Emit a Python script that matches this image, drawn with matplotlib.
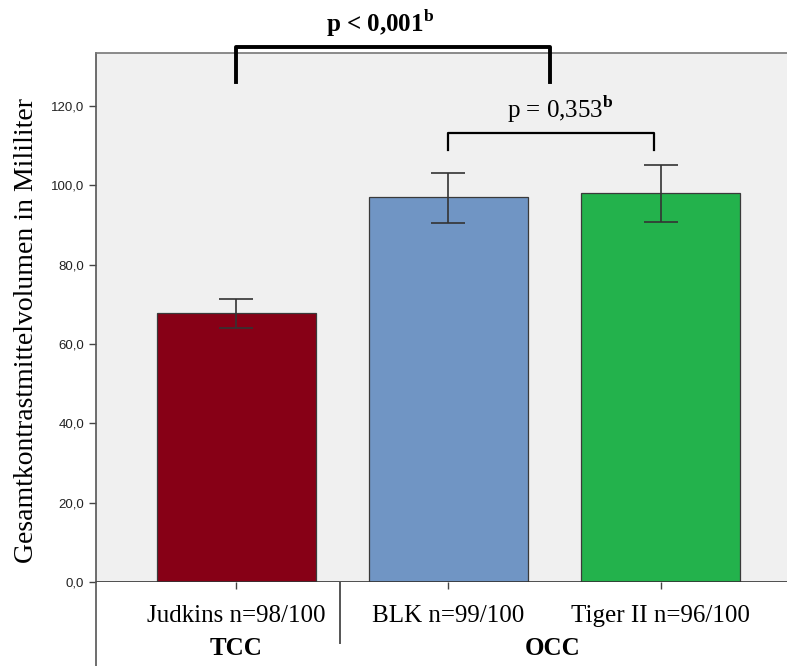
import matplotlib.pyplot as plt
from matplotlib.lines import Line2D

plt.rcParams["mathtext.fontset"] = "custom"
plt.rcParams["mathtext.rm"] = "Liberation Serif"
plt.rcParams["mathtext.bf"] = "Liberation Serif:bold"

# === Data ===
categories = ["Judkins n=98/100", "BLK n=99/100", "Tiger II n=96/100"]
groups = ["TCC", "OCC"]
means = [67.8, 97.0, 98.0]
err_low = [64.0, 90.6, 90.7]
err_high = [71.3, 103.1, 105.1]
colors = ["#870016", "#7095c4", "#23b24c"]
yticks = [0, 20, 40, 60, 80, 100, 120]

fig = plt.figure(figsize=(7.87, 6.66), dpi=100)
ax = fig.add_axes([96 / 787, 84 / 666, 691 / 787, 529 / 666])
ax.set_facecolor("#f0f0f0")

x = list(range(len(categories)))
ax.bar(x, means, width=0.75, color=colors, edgecolor="#3a3a3a", linewidth=0.9, zorder=2)

# error bars
lower = [m - lo for m, lo in zip(means, err_low)]
upper = [hi - m for m, hi in zip(means, err_high)]
ax.errorbar(x, means, yerr=[lower, upper], fmt="none", ecolor="#333333",
            elinewidth=1.2, capsize=12, capthick=1.2, zorder=3)

ax.set_xlim(-0.66, 2.595)
ax.set_ylim(0, 133.4)
ax.set_yticks(yticks)
ax.set_yticklabels([f"{v:.1f}".replace(".", ",") for v in yticks],
                   fontfamily="Liberation Sans", fontsize=9.5, color="#222222")
ax.set_xticks(x)
ax.set_xticklabels([])
ax.tick_params(axis="both", direction="out", length=5, width=1, color="#444444")

for s in ["right", "bottom"]:
    ax.spines[s].set_visible(False)
ax.spines["left"].set_color("#555555")
ax.spines["top"].set_color("#777777")
ax.spines["left"].set_linewidth(1.2)
ax.spines["top"].set_linewidth(1.2)
ax.axhline(0, color="#333333", linewidth=1.2, zorder=4)

ax.set_ylabel("Gesamtkontrastmittelvolumen in Mililiter", fontfamily="Liberation Serif",
              fontsize=20)
ax.yaxis.set_label_coords(-0.082, 0.476)

# category labels and groups
for xi, lab in zip(x, categories):
    ax.text(xi, -10.1, lab, ha="center", va="baseline", fontfamily="Liberation Serif",
            fontsize=18, clip_on=False)
ax.text(0, -18.4, groups[0], ha="center", va="baseline", fontfamily="Liberation Serif",
        fontsize=18, fontweight="bold", clip_on=False)
ax.text(1.49, -18.4, groups[1], ha="center", va="baseline", fontfamily="Liberation Serif",
        fontsize=18, fontweight="bold", clip_on=False)

# axis line continued below, separator between groups
fig.add_artist(Line2D([96 / 787, 96 / 787], [0, 84 / 666], color="#555555", linewidth=1.2))
fig.add_artist(Line2D([340 / 787, 340 / 787], [23 / 666, 84 / 666], color="#555555", linewidth=1.4))

# significance brackets
ax.plot([0, 0, 1.48, 1.48], [126.0, 134.9, 134.9, 126.0], color="black",
        linewidth=2.8, clip_on=False, zorder=5)
ax.text(0.68, 138.6, r"p < 0,001$^{\mathbf{b}}$", ha="center", va="baseline",
        fontfamily="Liberation Serif", fontsize=18, fontweight="bold")

ax.plot([1, 1, 1.97, 1.97], [108.9, 113.2, 113.2, 108.9], color="black",
        linewidth=1.6, zorder=5)
ax.text(1.525, 117.0, r"p = 0,353$^{\mathbf{b}}$", ha="center", va="baseline",
        fontfamily="Liberation Serif", fontsize=18)

fig.savefig("out.png", dpi=100)
